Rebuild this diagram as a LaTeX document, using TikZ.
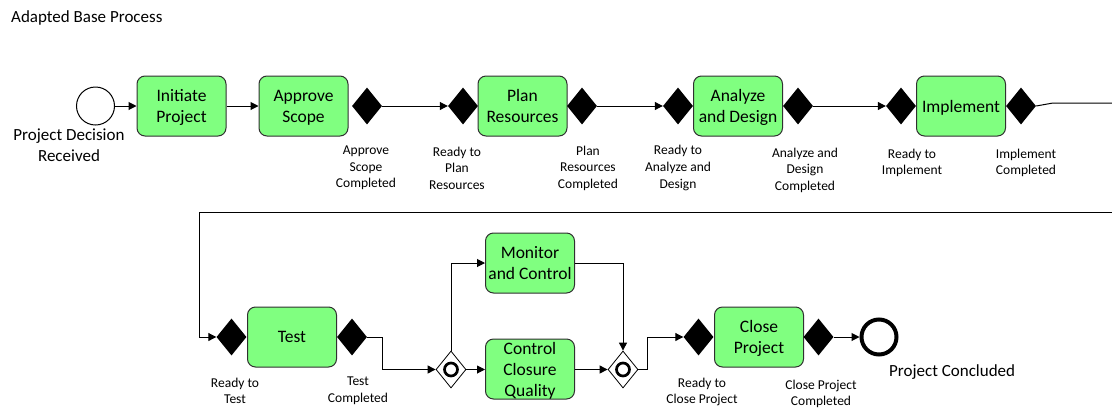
\documentclass[tikz,border=0pt]{standalone}
\usepackage{fontspec}
\setmainfont{Carlito}
\usetikzlibrary{arrows.meta,shapes.geometric}

\definecolor{taskgreen}{HTML}{80FF80}
\definecolor{taskedge}{HTML}{303030}

\tikzset{
  task/.style={draw=taskedge, line width=1pt, fill=taskgreen, rounded corners=8pt,
    minimum width=89pt, minimum height=60pt, inner sep=1pt, align=center,
    text depth=0pt, font=\fontsize{17.5}{21}\selectfont},
  evt/.style={diamond, fill=black, draw=none, inner sep=0pt,
    minimum width=30pt, minimum height=37pt},
  gateway/.style={diamond, fill=white, draw=black, line width=0.8pt, inner sep=0pt,
    minimum width=30pt, minimum height=37pt,
    path picture={\draw[line width=2.7pt] (path picture bounding box.center) circle (6.5pt);}},
  startev/.style={circle, draw=black, line width=1pt, fill=white, minimum size=38pt, inner sep=0pt},
  endev/.style={circle, draw=black, line width=4pt, fill=white, minimum size=35pt, inner sep=0pt},
  small/.style={align=center, inner sep=0pt, font=\fontsize{13.5}{16.6}\selectfont},
  big/.style={align=center, inner sep=0pt, font=\fontsize{17}{21}\selectfont},
  flow/.style={draw=black, line width=1pt, -{Triangle[length=8pt,width=8pt]}},
  plain/.style={draw=black, line width=1pt},
}

\begin{document}
\begin{tikzpicture}[x=1pt, y=-1pt]
\useasboundingbox (0,0) rectangle (1112,408);

\node[big, anchor=west] (title) at (11,18) {Adapted Base Process};

% first row
\node[startev] (start) at (95.5,106) {};
\node[big] (startlbl) at (69,145) {Project Decision\\Received};

\node[task] (initiate) at (181.5,106) {Initiate\\Project};
\node[task] (approve) at (303.5,106) {Approve\\Scope};
\node[evt] (approvedone) at (367,106) {};
\node[small] (approvedonelbl) at (366,168) {Approve\\Scope\\Completed};

\node[evt] (readyplan) at (463,106) {};
\node[task] (plan) at (522.5,106) {Plan\\Resources};
\node[evt] (plandone) at (582,106) {};
\node[small] (readyplanlbl) at (457,168) {Ready to\\Plan\\Resources};
\node[small] (plandonelbl) at (588,168) {Plan\\Resources\\Completed};

\node[evt] (readyanalyze) at (678,106) {};
\node[task] (analyze) at (738,106) {Analyze\\and Design};
\node[evt] (analyzedone) at (798,106) {};
\node[small] (readyanalyzelbl) at (678,168) {Ready to\\Analyze and\\Design};
\node[small] (analyzedonelbl) at (805,170) {Analyze and\\Design\\Completed};

\node[evt] (readyimpl) at (901,106) {};
\node[task] (impl) at (961,106) {Implement};
\node[evt] (impldone) at (1021,106) {};
\node[small] (readyimpllbl) at (912,163) {Ready to\\Implement};
\node[small] (impldonelbl) at (1026,163) {Implement\\Completed};

% second row
\node[evt] (readytest) at (231.5,337) {};
\node[task] (test) at (292,337) {Test};
\node[evt] (testdone) at (352,337) {};
\node[small] (readytestlbl) at (235,391) {Ready to\\Test};
\node[small] (testdonelbl) at (358,391) {Test\\Completed};

\node[gateway] (split) at (451,369.5) {};
\node[task] (monitor) at (530,263) {Monitor\\and Control};
\node[task] (quality) at (530,369) {Control\\Closure\\Quality};
\node[gateway] (join) at (623,369.5) {};

\node[evt] (readyclose) at (698.5,337) {};
\node[task] (close) at (759,337) {Close\\Project};
\node[evt] (closedone) at (818.5,337) {};
\node[small] (readycloselbl) at (702,392) {Ready to\\Close Project};
\node[small] (closedonelbl) at (821,394) {Close Project\\Completed};

\node[endev] (finish) at (879,337) {};
\node[big, anchor=west] (finishlbl) at (889,372) {Project Concluded};

% wrap-around points of the long connector
\coordinate (bendout) at (1053,103);
\coordinate (exitright) at (1114,103);
\coordinate (enterright) at (1114,212);
\coordinate (turnleft) at (199,212);
\coordinate (testturn) at (382,337);
\coordinate (jointurn) at (647,369.5);

% sequence flows
\draw[flow] (start) -- (initiate);
\draw[flow] (initiate) -- (approve);
\draw[flow] (approvedone.east) -- (readyplan.west);
\draw[flow] (plandone.east) -- (readyanalyze.west);
\draw[flow] (analyzedone.east) -- (readyimpl.west);
\draw[plain] (impldone.east) -- (bendout) -- (exitright);
\draw[flow] (enterright) -- (turnleft) |- (readytest.west);
\draw[flow] (testdone.east) -- (testturn) |- (split.west);
\draw[flow] (split.north) |- (monitor.west);
\draw[flow] (split.east) -- (quality.west |- split.east);
\draw[flow] (quality.east |- join.west) -- (join.west);
\draw[flow] (monitor.east) -| (join.north);
\draw[flow] (join.east) -- (jointurn) |- (readyclose.west);
\draw[flow] (closedone.east) -- (finish.west);
\end{tikzpicture}
\end{document}
